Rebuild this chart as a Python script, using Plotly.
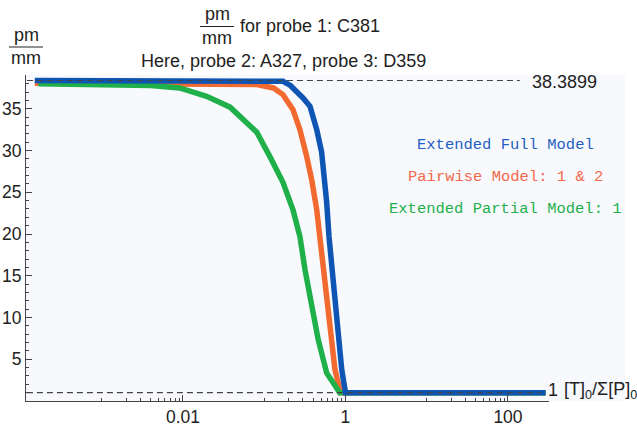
import plotly.graph_objects as go

# ---------------- data ----------------
full_x = [1.5e-4, 0.01, 0.12, 0.17, 0.21, 0.25, 0.3, 0.366, 0.443, 0.509, 0.56, 0.587, 0.627, 0.70, 0.81,
          0.90, 1.0, 290]
full_y = [38.39, 38.39, 38.39, 38.3, 37.8, 37.1, 36.3, 35.3, 32.5, 29.8, 26.5, 23.8, 19.7, 14.5, 8.5,
          3.75, 1.0, 1.0]

pair_x = [1.5e-4, 0.01, 0.081, 0.13, 0.17, 0.226, 0.275, 0.333, 0.384, 0.443, 0.485, 0.56, 0.646, 0.743,
          0.87, 290]
pair_y = [38.05, 38.0, 37.9, 37.5, 36.7, 34.9, 32.5, 29.3, 26.5, 22.9, 19.7, 14.5, 8.5, 3.75, 1.0, 1.0]

part_x = [1.66e-4, 1.26e-3, 4e-3, 9.1e-3, 0.0195, 0.038, 0.081, 0.117, 0.17, 0.226, 0.275, 0.318,
          0.384, 0.462, 0.587, 0.85, 290]
part_y = [38.0, 37.85, 37.8, 37.5, 36.5, 35.2, 32.2, 29.3, 26.2, 22.9, 19.7, 15.7, 11.3, 7.35, 3.36, 1.0, 1.0]

upper_level = 38.3899
lower_level = 1
upper_line_x = [1.2e-4, 140]
lower_line_x = [1.2e-4, 254]

x_tick_vals = [0.01, 1, 100]
x_tick_text = ["0.01", "1", "100"]
x_minor_vals = [0.001, 0.002, 0.003, 0.004, 0.005, 0.006, 0.007, 0.008, 0.009,
                0.1, 0.2, 0.3, 0.4, 0.5, 0.6, 0.7, 0.8, 0.9,
                10, 20, 30, 40, 50, 60, 70, 80, 90]
y_tick_vals = [5, 10, 15, 20, 25, 30, 35]

series_names = ["Extended Full Model", "Pairwise Model: 1 &amp; 2", "Extended Partial Model: 1"]
series_colors = ["#0f55b4", "#f36a30", "#1fb04a"]
label_colors = ["#1f5fc2", "#f4684a", "#22b04e"]

# ---------------- layout helpers (pixel -> paper) ----------------
W_FIG, H_FIG = 637, 436
L, T, R, B = 26, 75, 88, 35
PW = W_FIG - L - R
PH = H_FIG - T - B


def px(x):
    return (x - L) / PW


def py(y):
    return (T + PH - y) / PH


TXT = "Liberation Sans"
MONO = "Liberation Mono"
DARK = "#222222"

fig = go.Figure()

# curves: orange bottom, green middle, blue top
fig.add_trace(go.Scatter(x=pair_x, y=pair_y, mode="lines",
                         line=dict(color=series_colors[1], width=5.5), showlegend=False))
fig.add_trace(go.Scatter(x=part_x, y=part_y, mode="lines",
                         line=dict(color=series_colors[2], width=5.5), showlegend=False))
fig.add_trace(go.Scatter(x=full_x, y=full_y, mode="lines",
                         line=dict(color=series_colors[0], width=5.5), showlegend=False))

# dashed reference lines on top
fig.add_trace(go.Scatter(x=upper_line_x, y=[upper_level, upper_level], mode="lines",
                         line=dict(color="#444444", width=1.2, dash="6px,4px"), showlegend=False))
fig.add_trace(go.Scatter(x=lower_line_x, y=[lower_level, lower_level], mode="lines",
                         line=dict(color="#444444", width=1.2, dash="6px,4px"), showlegend=False))

annotations = []


def text(x, y, s, size=18, color=DARK, family=TXT, xanchor="center"):
    annotations.append(dict(x=px(x), y=py(y), xref="paper", yref="paper", text=s,
                            showarrow=False, xanchor=xanchor, yanchor="middle",
                            font=dict(family=family, size=size, color=color)))


# title (fraction + text)
text(217, 14, "pm")
text(217, 38, "mm")
text(238, 26, "for probe 1: C381", xanchor="left")
text(283, 61, "Here, probe 2: A327, probe 3: D359")
# y-axis label fraction
text(26, 35, "pm")
text(26, 58, "mm")

# level labels
text(530, 82, "38.3899", xanchor="left")
text(546, 390, "1", xanchor="left")
text(562, 390, "[T]<sub>0</sub>/Σ[P]<sub>0</sub>", xanchor="left")

# in-plot legend texts
for i, yy in enumerate([145, 177, 209]):
    text(505, yy, series_names[i], size=15.5, color=label_colors[i], family=MONO)

shapes = [
    dict(type="rect", xref="paper", yref="paper", x0=0, x1=px(625), y0=0, y1=1,
         fillcolor="#f8f9fc", line=dict(width=0), layer="below"),
    dict(type="line", xref="paper", yref="paper", x0=px(200), x1=px(234), y0=py(26.5), y1=py(26.5),
         line=dict(color=DARK, width=1)),
    dict(type="line", xref="paper", yref="paper", x0=px(9), x1=px(43), y0=py(47), y1=py(47),
         line=dict(color=DARK, width=1)),
]

fig.update_layout(
    template="none",
    width=W_FIG, height=H_FIG,
    margin=dict(l=L, r=R, t=T, b=B, pad=0),
    paper_bgcolor="white",
    plot_bgcolor="#f8f9fc",
    showlegend=False,
    annotations=annotations,
    shapes=shapes,
    xaxis=dict(type="log", range=[-3.932, 2.505], showgrid=False, zeroline=False,
               showline=True, linecolor="#444444", linewidth=1, mirror=False,
               ticks="inside", ticklen=6, tickcolor="#444444",
               tickmode="array", tickvals=x_tick_vals, ticktext=x_tick_text,
               tickfont=dict(family=TXT, size=17.5, color=DARK),
               minor=dict(tickmode="array", tickvals=x_minor_vals, ticks="inside",
                          ticklen=3, tickcolor="#444444", showgrid=False),
               automargin=False),
    yaxis=dict(range=[0, 39.05], showgrid=False, zeroline=False,
               showline=True, linecolor="#444444", linewidth=1,
               ticks="inside", ticklen=6, tickcolor="#444444",
               tickmode="array", tickvals=y_tick_vals,
               tickfont=dict(family=TXT, size=17.5, color=DARK),
               minor=dict(dtick=1, ticks="inside", ticklen=3, tickcolor="#444444", showgrid=False),
               automargin=False),
)

fig.write_html(
    "out.html",
    config={"displayModeBar": False},
    post_script="document.body.style.margin='0px';document.body.style.padding='0px';"
                "document.body.style.overflow='hidden';",
)
